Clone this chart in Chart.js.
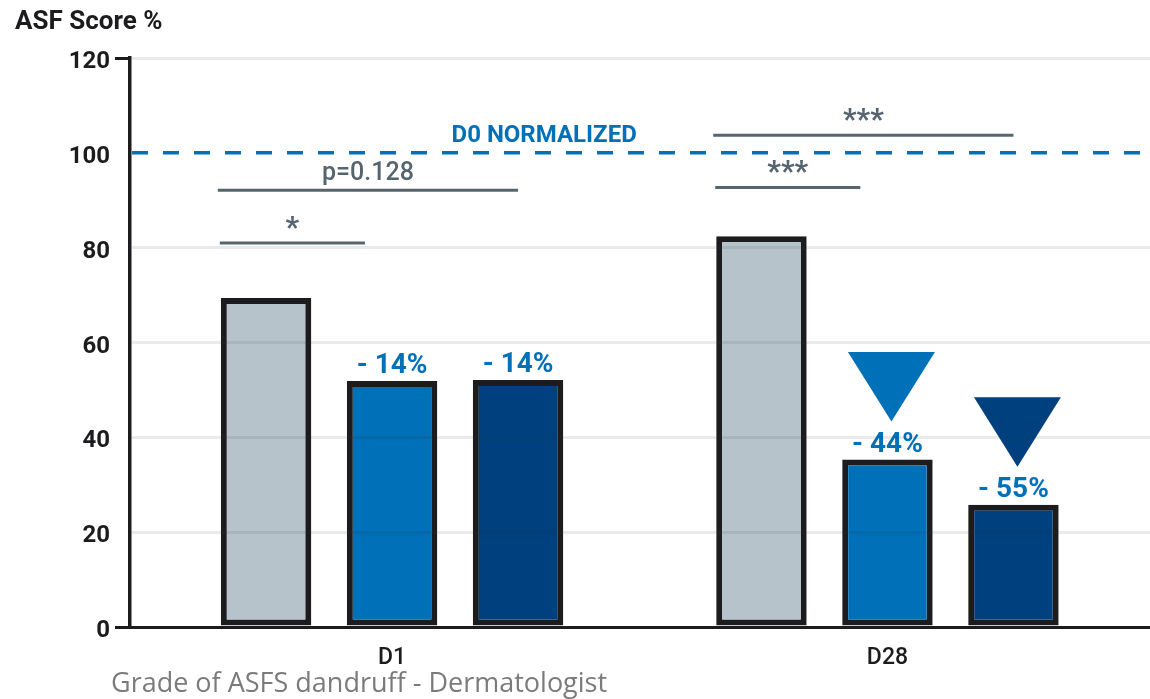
<!DOCTYPE html>
<html><head>
<meta charset="UTF-8">
<title>ASF Score %</title>
<style>
  body {
    margin: 0;
    background: #fff;
  }
  .chart-box {
    width: 1150px;
    height: 699px;
  }
</style>
<script src="https://cdn.jsdelivr.net/npm/chart.js"></script>
</head>
<body>
<div class="chart-box">
  <canvas id="asfChart" width="1150" height="699"></canvas>
</div>

<script>
  // --- data ---
  var days = ['D1', 'D28'];
  var placeboScores = [69.4, 82.4];
  var productAScores = [51.9, 35.3];
  var productBScores = [52.1, 25.8];
  var productALabels = ['- 14%', '- 44%'];
  var productBLabels = ['- 14%', '- 55%'];
  var yMax = 120;
  var yStep = 20;
  var normalizedLevel = 100;
  var normalizedText = 'D0 NORMALIZED';

  // significance brackets: day, first bar, last bar, height on the score axis, text
  var sigDay = [0, 0, 1, 1];
  var sigFrom = [0, 0, 0, 0];
  var sigTo = [1, 2, 1, 2];
  var sigLevel = [81.0, 92.1, 92.7, 103.7];
  var sigText = ['*', 'p=0.128', '***', '***'];

  var FONT = 'Roboto, "Open Sans", sans-serif';
  var BLUE = '#0071b9';
  var NAVY = '#00407e';
  var SLATE = '#56646e';
  var INK = '#1c1c1e';

  function toPoints(values) {
    return values.map(function (v, i) { return { x: i, y: v }; });
  }

  // triangles, value labels, brackets and the D0 reference line
  var annotations = {
    id: 'annotations',
    afterDatasetsDraw: function (chart) {
      var ctx = chart.ctx;
      var area = chart.chartArea;
      var x = chart.scales.x;
      var y = chart.scales.y;
      var barsA = chart.getDatasetMeta(1).data;
      var barsB = chart.getDatasetMeta(2).data;

      ctx.save();

      // D0 normalized dashed line
      var yRef = y.getPixelForValue(normalizedLevel);
      ctx.strokeStyle = BLUE;
      ctx.lineWidth = 3.5;
      ctx.setLineDash([16, 15]);
      ctx.beginPath();
      ctx.moveTo(area.left + 2, yRef);
      ctx.lineTo(area.right, yRef);
      ctx.stroke();
      ctx.setLineDash([]);

      ctx.fillStyle = BLUE;
      ctx.font = 'bold 24px ' + FONT;
      ctx.textAlign = 'right';
      ctx.textBaseline = 'alphabetic';
      ctx.fillText(normalizedText, x.getPixelForValue(0.5) - 3, yRef - 10.5);

      // reduction labels
      ctx.textAlign = 'center';
      ctx.font = 'bold 28px ' + FONT;
      ctx.fillStyle = BLUE;
      [[barsA, productALabels], [barsB, productBLabels]].forEach(function (pair) {
        pair[0].forEach(function (bar, i) {
          ctx.fillText(pair[1][i], bar.x, bar.y - 8);
        });
      });

      // down arrows over the D28 product bars
      [[barsA[1], BLUE], [barsB[1], NAVY]].forEach(function (pair) {
        var bar = pair[0];
        var cx = bar.x + 4;
        var tip = bar.y - 38;
        ctx.fillStyle = pair[1];
        ctx.beginPath();
        ctx.moveTo(cx - 43.5, tip - 69.5);
        ctx.lineTo(cx + 43.5, tip - 69.5);
        ctx.lineTo(cx, tip);
        ctx.closePath();
        ctx.fill();
      });

      // significance brackets
      ctx.strokeStyle = SLATE;
      ctx.fillStyle = SLATE;
      ctx.lineWidth = 3;
      sigText.forEach(function (text, k) {
        var first = chart.getDatasetMeta(sigFrom[k]).data[sigDay[k]];
        var last = chart.getDatasetMeta(sigTo[k]).data[sigDay[k]];
        var wide = sigTo[k] - sigFrom[k] > 1;
        var x0 = first.x - first.width / 2 - (wide ? 3 : 1);
        // adjacent bars: stop just past the left edge; across the group: stop at the centre
        var x1 = wide ? last.x : last.x - last.width / 2 + 0.2 * last.width;
        var ly = y.getPixelForValue(sigLevel[k]);
        ctx.beginPath();
        ctx.moveTo(x0, ly);
        ctx.lineTo(x1, ly);
        ctx.stroke();
        var stars = text.charAt(0) === '*';
        ctx.font = stars ? 'bold 30px ' + FONT : '500 25px ' + FONT;
        ctx.fillText(text, (x0 + x1) / 2, ly - (stars ? 6 : 10.5));
      });

      ctx.restore();
    },
    afterDraw: function (chart) {
      var ctx = chart.ctx;
      ctx.save();
      ctx.textAlign = 'left';
      ctx.textBaseline = 'alphabetic';
      ctx.fillStyle = INK;
      ctx.font = 'bold 26px ' + FONT;
      ctx.fillText('ASF Score %', 15, 29);
      ctx.fillStyle = '#7b7b7b';
      ctx.font = '27px "Open Sans", sans-serif';
      ctx.fillText('Grade of ASFS dandruff - Dermatologist', 111, 692);
      ctx.restore();
    }
  };

  var barStyle = {
    borderColor: INK,
    borderWidth: 6,
    borderSkipped: false,
    categoryPercentage: 0.763,
    barPercentage: 0.718
  };

  var ctx = document.getElementById('asfChart').getContext('2d');
  var chart = new Chart(ctx, {
    type: 'bar',
    data: {
      datasets: [
        Object.assign({ label: 'Placebo', data: toPoints(placeboScores), backgroundColor: '#b6c3cb' }, barStyle),
        Object.assign({ label: 'Product A', data: toPoints(productAScores), backgroundColor: BLUE }, barStyle),
        Object.assign({ label: 'Product B', data: toPoints(productBScores), backgroundColor: NAVY }, barStyle)
      ]
    },
    options: {
      responsive: false,
      animation: false,
      devicePixelRatio: 1,
      layout: { padding: { top: 58, right: 0, bottom: 0, left: 0 } },
      plugins: {
        legend: { display: false },
        tooltip: { enabled: false }
      },
      scales: {
        x: {
          type: 'linear',
          offset: false,
          min: -0.529,
          max: 1.530,
          afterBuildTicks: function (scale) {
            scale.ticks = days.map(function (d, i) { return { value: i }; });
          },
          afterFit: function (scale) { scale.height = 72; },
          grid: { display: false, drawTicks: false },
          border: { display: true, color: INK, width: 3 },
          ticks: {
            padding: 17,
            color: INK,
            font: { family: FONT, size: 23, weight: '500' },
            callback: function (v) { return days[v]; }
          }
        },
        y: {
          min: 0,
          max: yMax,
          afterFit: function (scale) { scale.width = 130; },
          grid: {
            z: 1,
            lineWidth: 3,
            tickLength: 15,
            tickWidth: 3,
            color: function (c) {
              var v = c.tick ? c.tick.value : null;
              return (v === 0 || v === normalizedLevel) ? 'rgba(0,0,0,0)' : 'rgba(40,50,60,0.1)';
            },
            tickColor: function (c) {
              var v = c.tick ? c.tick.value : null;
              return (v === 0 || v === yMax) ? INK : 'rgba(0,0,0,0)';
            }
          },
          border: { display: true, color: INK, width: 3.5, z: 2 },
          ticks: {
            stepSize: yStep,
            padding: 5,
            labelOffset: 4,
            color: INK,
            font: { family: FONT, size: 24, weight: 'bold' }
          }
        }
      }
    },
    plugins: [annotations]
  });
</script>
</body>
</html>
